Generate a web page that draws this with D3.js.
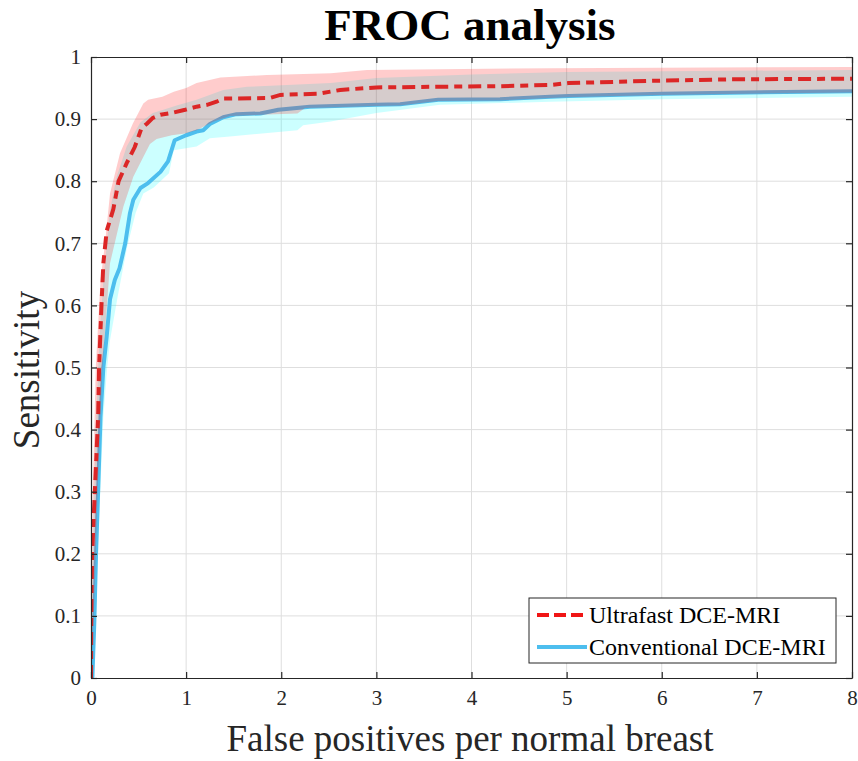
<!DOCTYPE html>
<html><head><meta charset="utf-8">
<script src="https://cdn.jsdelivr.net/npm/d3@7"></script>
<style>body{margin:0;background:#fff}svg{display:block}</style>
</head><body>
<svg id="chart" width="858" height="761"></svg>
<script>
// ---- data ----
const title = "FROC analysis";
const xLabel = "False positives per normal breast";
const yLabel = "Sensitivity";
const seriesNames = ["Ultrafast DCE-MRI", "Conventional DCE-MRI"];
const xTicks = [0,1,2,3,4,5,6,7,8];
const yTicks = [0,0.1,0.2,0.3,0.4,0.5,0.6,0.7,0.8,0.9,1];

// Ultrafast (red) curve
const ufX = [0,0.003,0.012,0.04,0.075,0.085,0.11,0.13,0.165,0.235,0.29,0.375,0.46,0.53,0.59,0.65,0.73,0.85,0.99,1.11,1.22,1.32,1.39,1.88,1.99,2.4,2.62,3.0,3.6,4.3,4.83,5.02,6.0,6.7,8];
const ufY = [0,0.1,0.2,0.3,0.42,0.5,0.6,0.668,0.72,0.755,0.8,0.829,0.855,0.885,0.893,0.902,0.907,0.91,0.915,0.92,0.923,0.928,0.933,0.934,0.939,0.941,0.947,0.951,0.952,0.953,0.955,0.958,0.962,0.964,0.965];
// Ultrafast band upper / lower
const ufUpX = [0,0.02,0.05,0.1,0.147,0.2,0.305,0.44,0.55,0.6,0.75,0.87,1.0,1.11,1.36,1.85,2.52,2.9,4.83,8];
const ufUpY = [0,0.3,0.5,0.64,0.70,0.78,0.845,0.893,0.925,0.931,0.936,0.944,0.95,0.958,0.967,0.971,0.974,0.979,0.982,0.984];
const ufLoX = [0,0.03,0.07,0.12,0.2,0.34,0.445,0.55,0.62,0.69,0.85,0.99,1.11,1.29,1.46,2.17,2.25,2.6,3.0,3.25,3.65,4.3,5.0,6,8];
const ufLoY = [0,0.1,0.3,0.5,0.668,0.759,0.807,0.839,0.86,0.868,0.874,0.877,0.882,0.896,0.905,0.909,0.918,0.919,0.921,0.922,0.929,0.93,0.935,0.939,0.943];

// Conventional (blue) curve
const cvX = [0,0.015,0.035,0.053,0.077,0.1,0.13,0.165,0.2,0.25,0.3,0.36,0.41,0.445,0.52,0.6,0.73,0.81,0.88,1.0,1.11,1.18,1.25,1.39,1.53,1.78,1.97,2.3,3.0,3.25,3.65,4.3,4.83,5.02,6.0,8];
const cvY = [0,0.002,0.09,0.2,0.31,0.42,0.5,0.55,0.61,0.641,0.66,0.70,0.749,0.77,0.789,0.797,0.815,0.832,0.866,0.874,0.88,0.882,0.892,0.903,0.908,0.909,0.915,0.92,0.923,0.924,0.931,0.932,0.936,0.937,0.941,0.945];
// Conventional band upper / lower
const cvUpX = [0,0.02,0.05,0.09,0.13,0.2,0.27,0.375,0.52,0.65,0.76,0.9,1.11,1.39,1.64,2.52,3.0,4,5,8];
const cvUpY = [0,0.2,0.4,0.55,0.64,0.754,0.807,0.856,0.895,0.91,0.915,0.922,0.931,0.947,0.952,0.958,0.966,0.972,0.976,0.979];
const cvLoX = [0,0.02,0.045,0.07,0.1,0.13,0.17,0.2,0.28,0.38,0.47,0.55,0.66,0.73,0.82,0.87,1.11,1.25,1.46,2.17,2.23,2.52,3.0,3.67,4.83,6,8];
const cvLoY = [0,0,0.09,0.2,0.31,0.42,0.5,0.544,0.614,0.694,0.749,0.78,0.79,0.80,0.813,0.85,0.856,0.869,0.872,0.882,0.89,0.896,0.91,0.923,0.928,0.932,0.936];

// ---- chart ----
const svg = d3.select("#chart");
const x = d3.scaleLinear().domain([0,8]).range([91,852]);
const y = d3.scaleLinear().domain([0,1]).range([678,57]);
const serif = "'Liberation Serif','Times New Roman',serif";
const axisColor = "#262626";

const zip = (xs, ys) => xs.map((v,i)=>[v, ys[i]]);
const line = d3.line().x(d=>x(d[0])).y(d=>y(d[1]));
const bandPath = (ux,uy,lx,ly) => {
  const pts = zip(ux,uy).concat(zip(lx,ly).reverse());
  return line(pts) + "Z";
};

// grid
const grid = svg.append("g");
grid.selectAll("line.gx").data(xTicks.slice(1,-1)).join("line")
  .attr("x1",d=>x(d)).attr("x2",d=>x(d)).attr("y1",y(0)).attr("y2",y(1))
  .attr("stroke","#dedede").attr("stroke-width",1);
grid.selectAll("line.gy").data(yTicks.slice(1,-1)).join("line")
  .attr("y1",d=>y(d)).attr("y2",d=>y(d)).attr("x1",x(0)).attr("x2",x(8))
  .attr("stroke","#dedede").attr("stroke-width",1);

svg.append("clipPath").attr("id","plotclip").append("rect")
  .attr("x",x(0)).attr("y",y(1)).attr("width",x(8)-x(0)).attr("height",y(0)-y(1));
const plot = svg.append("g").attr("clip-path","url(#plotclip)");

// conventional band, then line, then ultrafast band, then line
plot.append("path").attr("d",bandPath(cvUpX,cvUpY,cvLoX,cvLoY))
  .attr("fill","#00ffff").attr("fill-opacity",0.2).attr("stroke","none");
plot.append("path").attr("d",line(zip(cvX,cvY)))
  .attr("fill","none").attr("stroke","#4dbeee").attr("stroke-width",4).attr("stroke-linejoin","round");
plot.append("path").attr("d",bandPath(ufUpX,ufUpY,ufLoX,ufLoY))
  .attr("fill","#ff0000").attr("fill-opacity",0.2).attr("stroke","none");
plot.append("path").attr("d",line(zip(ufX,ufY)))
  .attr("fill","none").attr("stroke","#dc2626").attr("stroke-width",4)
  .attr("stroke-dasharray","13,6,8,6");

// axes (box with inward ticks)
const tickLen = 6;
const xAxisB = d3.axisBottom(x).tickValues(xTicks).tickSizeInner(-tickLen).tickSizeOuter(0).tickPadding(12).tickFormat(d3.format("d"));
const xAxisT = d3.axisTop(x).tickValues(xTicks).tickSizeInner(-tickLen).tickSizeOuter(0).tickFormat("");
const yAxisL = d3.axisLeft(y).tickValues(yTicks).tickSizeInner(-tickLen).tickSizeOuter(0).tickPadding(10).tickFormat(d=>String(+d.toFixed(1)));
const yAxisR = d3.axisRight(y).tickValues(yTicks).tickSizeInner(-tickLen).tickSizeOuter(0).tickFormat("");

function styleAxis(g){
  g.attr("font-family",serif).attr("font-size",21);
  g.select(".domain").attr("stroke",axisColor).attr("stroke-width",1.2);
  g.selectAll(".tick line").attr("stroke",axisColor).attr("stroke-width",1.2);
  g.selectAll(".tick text").attr("fill","#262626").style("font-family",serif).style("font-size","21px");
}
svg.append("g").attr("transform",`translate(0,${y(0)})`).call(xAxisB).call(styleAxis);
svg.append("g").attr("transform",`translate(0,${y(1)})`).call(xAxisT).call(styleAxis);
svg.append("g").attr("transform",`translate(${x(0)},0)`).call(yAxisL).call(styleAxis);
svg.append("g").attr("transform",`translate(${x(8)},0)`).call(yAxisR).call(styleAxis);

// titles
svg.append("text").attr("x",470).attr("y",40).attr("text-anchor","middle")
  .style("font-family",serif).style("font-size","45px").style("font-weight","bold").attr("fill","#000").text(title);
svg.append("text").attr("x",470).attr("y",751).attr("text-anchor","middle")
  .style("font-family",serif).style("font-size","37px").attr("fill","#262626").text(xLabel);
svg.append("text").attr("transform","translate(39,370) rotate(-90)").attr("text-anchor","middle")
  .style("font-family",serif).style("font-size","37px").attr("fill","#262626").text(yLabel);

// legend
const lg = svg.append("g");
lg.append("rect").attr("x",529).attr("y",598).attr("width",307).attr("height",65)
  .attr("fill","#fff").attr("stroke",axisColor).attr("stroke-width",1);
const legendStyles = [
  {color:"#f01515", dash:"12,5,12,5,12"},
  {color:"#4dbeee", dash:null}
];
seriesNames.forEach((name,i)=>{
  const yy = 615 + i*32;
  const l = lg.append("line").attr("x1",537).attr("x2",587).attr("y1",yy).attr("y2",yy)
    .attr("stroke",legendStyles[i].color).attr("stroke-width",4);
  if(legendStyles[i].dash) l.attr("stroke-dasharray",legendStyles[i].dash);
  lg.append("text").attr("x",589).attr("y",yy+8).style("font-family",serif).style("font-size","24px")
    .attr("fill","#000").text(name);
});
</script>
</body></html>
